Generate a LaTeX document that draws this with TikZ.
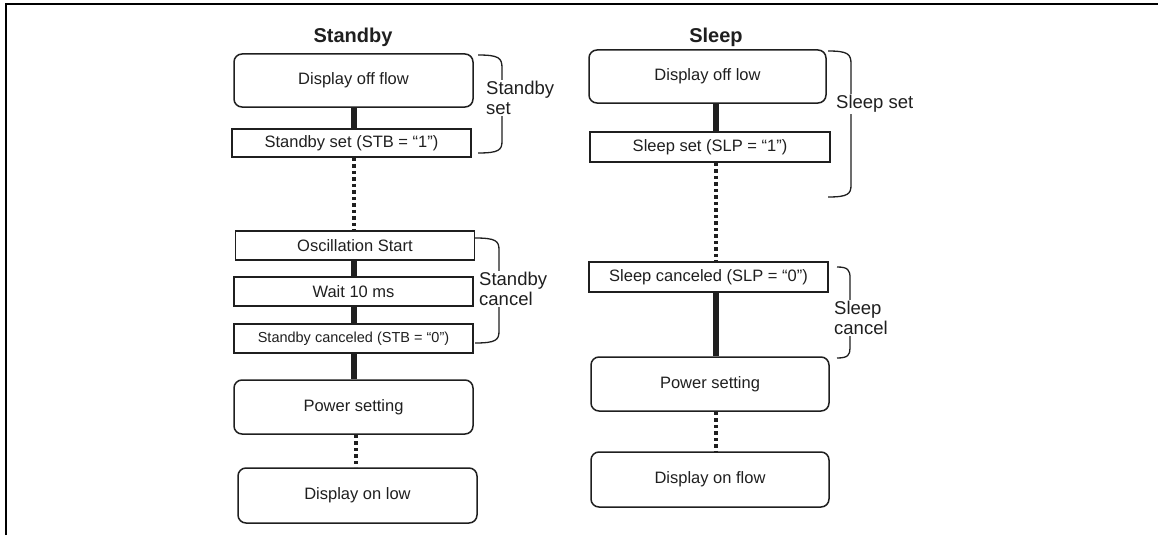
\documentclass[tikz,border=0pt]{standalone}
\usepackage{fontspec}
\setmainfont{Liberation Sans}
\begin{document}
\begin{tikzpicture}[x=1pt,y=-1pt,
  every node/.style={text=black!88, font=\fontsize{16.5}{19}\selectfont},
  rbox/.style={draw=black!88, line width=1.5pt, rounded corners=8pt, minimum width=239pt, minimum height=54pt, inner sep=0pt},
  sbox/.style={draw=black!88, line width=1.5pt, minimum width=239pt, minimum height=29pt, inner sep=0pt},
  thickc/.style={line width=5.5pt, draw=black!88},
  dotc/.style={line width=4.5pt, draw=black!88, dash pattern=on 3.3pt off 3.2pt},
  brace/.style={line width=1.3pt, draw=black!88},
  blabel/.style={anchor=west, align=left, fill=white, inner sep=1pt, font=\fontsize{18.5}{19.5}\selectfont},
  title/.style={anchor=base, font=\bfseries\fontsize{20}{24}\selectfont}
]
\useasboundingbox (0,0) rectangle (1158,535);
\draw[line width=2pt, black] (6,535) -- (6,4.2) -- (1158,4.2);

% connector axes
\coordinate (cx1) at (354,0);
\coordinate (cx2) at (716,0);

% Standby column
\node[title] (t1) at (353,42) {Standby};
\node[rbox, minimum height=53pt] (dof) at (353.5,80.5) {Display off flow};
\node[sbox, minimum height=28pt] (sset) at (351.5,143) {Standby set (STB = “1”)};
\node[sbox] (osc) at (355,245.5) {Oscillation Start};
\node[sbox] (wait) at (353.5,291.5) {Wait 10 ms};
\node[sbox, font=\fontsize{14.5}{17}\selectfont] (scan) at (353.5,338.5) {Standby canceled (STB = “0”)};
\node[rbox] (pw1) at (353.5,407) {Power setting};
\node[rbox, minimum height=55pt] (don) at (357.5,495.5) {Display on low};

\draw[thickc] (dof.south -| cx1) -- (sset.north -| cx1);
\draw[dotc] (sset.south -| cx1) -- (osc.north -| cx1);
\draw[thickc] (osc.south -| cx1) -- (wait.north -| cx1);
\draw[thickc] (wait.south -| cx1) -- (scan.north -| cx1);
\draw[thickc] (scan.south -| cx1) -- (pw1.north -| cx1);
\draw[dotc] ([xshift=2pt]pw1.south -| cx1) -- ([xshift=2pt]don.north -| cx1);

% Sleep column
\node[title] (t2) at (716,42) {Sleep};
\node[rbox, minimum width=237pt, minimum height=53pt] (doff) at (707.5,76.5) {Display off low};
\node[sbox, minimum width=240pt, minimum height=30pt] (slset) at (710,147) {Sleep set (SLP = “1”)};
\node[sbox, minimum height=30pt] (slcan) at (708.5,277) {Sleep canceled (SLP = “0”)};
\node[rbox, minimum width=238pt] (pw2) at (710,384) {Power setting};
\node[rbox, minimum width=238pt, minimum height=55pt] (donf) at (710,479.5) {Display on flow};

\draw[thickc] (doff.south -| cx2) -- (slset.north -| cx2);
\draw[dotc] (slset.south -| cx2) -- (slcan.north -| cx2);
\draw[thickc] (slcan.south -| cx2) -- (pw2.north -| cx2);
\draw[dotc] (pw2.south -| cx2) -- (donf.north -| cx2);

% braces
\draw[brace] (478,55) .. controls (499,55) and (502,58) .. (502,68) -- (502,141) .. controls (502,150) and (499,153) .. (478,153);
\node[blabel] (l1) at (485,98) {Standby\\set};
\draw[brace] (475,238) .. controls (496,238) and (499,241) .. (499,250) -- (499,331) .. controls (499,340) and (496,343) .. (475,343);
\node[blabel] (l2) at (478,289) {Standby\\cancel};
\draw[brace] (828,51) .. controls (848,51) and (851,54) .. (851,64) -- (851,185) .. controls (851,194) and (848,197) .. (828,197);
\node[blabel] (l3) at (835,104) {Sleep set};
\draw[brace] (837,267) .. controls (848,267) and (850,270) .. (850,278) -- (850,348) .. controls (850,355) and (848,358) .. (837,358);
\node[blabel] (l4) at (833,318) {Sleep\\cancel};
\end{tikzpicture}
\end{document}
